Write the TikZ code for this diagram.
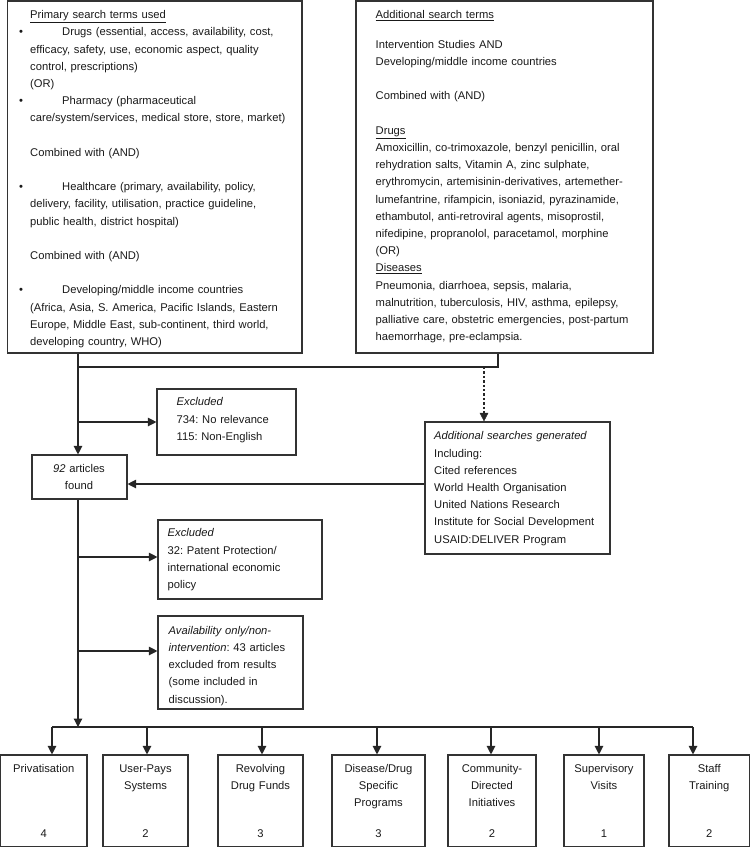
\documentclass[tikz,border=0pt]{standalone}
\usepackage{fontspec}
\setmainfont{Liberation Sans}
\usetikzlibrary{arrows.meta}
\newcommand{\fsz}{\fontsize{11.2pt}{17.2pt}\selectfont\frenchspacing}
\newcommand{\bl}{\\[17.2pt]}
\newcommand{\bul}{\leavevmode\llap{\makebox[11pt][l]{•}}\hspace*{32pt}}
\newcommand{\mkbox}[5]{\node[box, minimum width={(#4-#2)*1pt}, minimum height={(#5-#3)*1pt}] (#1) at ({(#2+#4)/2},{(#3+#5)/2}) {};}
\begin{document}
\begin{tikzpicture}[x=1pt,y=-1pt,
  box/.style={draw=black!80, line width=1.1pt, inner sep=0pt, rectangle},
  txt/.style={inner sep=0pt, font=\fsz, text=black!90, align=left, anchor=north west},
  ctxt/.style={inner sep=0pt, font=\fsz, text=black!90, align=center, anchor=north},
  line/.style={draw=black!85, line width=1.15pt},
  arr/.style={line, -{Triangle[length=8.5pt,width=8.5pt]}},
  dotarr/.style={draw=black!85, line width=2.7pt, dash pattern=on 2.3pt off 2.1pt, -{Triangle[length=8.5pt,width=8.5pt,line width=0.5pt]}}]
\useasboundingbox (0,0) rectangle (750,847);

% boxes
\mkbox{prim}{7.5}{1}{302}{353}
\mkbox{add}{356}{1}{653}{353}
\mkbox{ex1}{157}{389}{296}{455}
\mkbox{found}{32}{455}{127}{499}
\mkbox{gen}{425}{422}{610}{554}
\mkbox{ex2}{158}{520}{322}{599}
\mkbox{avail}{158}{616}{303}{709}
\mkbox{b1}{0.5}{755}{87}{846.3}
\mkbox{b2}{103}{755}{188}{846.3}
\mkbox{b3}{218}{755}{303}{846.3}
\mkbox{b4}{332}{755}{425}{846.3}
\mkbox{b5}{448}{755}{536}{846.3}
\mkbox{b6}{564}{755}{644}{846.3}
\mkbox{b7}{669}{755}{749.5}{846.3}

% texts
\node[txt, text width=300pt] (primtxt) at (30,6.5) {\strut\underline{Primary search terms used}\\
\bul Drugs (essential, access, availability, cost,\\
efficacy, safety, use, economic aspect, quality\\
control, prescriptions)\\
(OR)\\
\bul Pharmacy (pharmaceutical\\
care/system/services, medical store, store, market)\bl
Combined with (AND)\bl
\bul Healthcare (primary, availability, policy,\\
delivery, facility, utilisation, practice guideline,\\
public health, district hospital)\bl
Combined with (AND)\bl
\bul Developing/middle income countries\\
(Africa, Asia, S. America, Pacific Islands, Eastern\\
Europe, Middle East, sub-continent, third world,\\
developing country, WHO)};

\node[txt, text width=300pt] (addtxt) at (375.5,6) {\strut\underline{Additional search terms}\\[12.9pt]
Intervention Studies AND\\
Developing/middle income countries\bl
Combined with (AND)\bl
\underline{Drugs}\\
Amoxicillin, co-trimoxazole, benzyl penicillin, oral\\
rehydration salts, Vitamin A, zinc sulphate,\\
erythromycin, artemisinin-derivatives, artemether-\\
lumefantrine, rifampicin, isoniazid, pyrazinamide,\\
ethambutol, anti-retroviral agents, misoprostil,\\
nifedipine, propranolol, paracetamol, morphine\\
(OR)\\
\underline{Diseases}\\
Pneumonia, diarrhoea, sepsis, malaria,\\
malnutrition, tuberculosis, HIV, asthma, epilepsy,\\
palliative care, obstetric emergencies, post-partum\\
haemorrhage, pre-eclampsia.};

\node[txt, text width=130pt] (ex1txt) at (176.5,393.7) {\strut\textit{Excluded}\\734: No relevance\\115: Non-English};
\node[ctxt, text width=95pt] (foundtxt) at (79,460) {\strut\textit{92} articles\\found};
\node[txt, text width=180pt] (gentxt) at (434,427.7) {\strut\textit{Additional searches generated}\\Including:\\Cited references\\World Health Organisation\\United Nations Research\\Institute for Social Development\\USAID:DELIVER Program};
\node[txt, text width=160pt] (ex2txt) at (167.5,524.7) {\strut\textit{Excluded}\\32: Patent Protection/\\international economic\\policy};
\node[txt, text width=140pt] (availtxt) at (168.5,622) {\strut\textit{Availability only/non-}\\\textit{intervention}: 43 articles\\excluded from results\\(some included in\\discussion).};

\foreach \n/\t/\v in {b1/Privatisation/4, b2/{User-Pays\\Systems}/2, b3/{Revolving\\Drug Funds}/3, b4/{Disease/Drug\\Specific\\Programs}/3, b5/{Community-\\Directed\\Initiatives}/2, b6/{Supervisory\\Visits}/1, b7/{Staff\\Training}/2}{
  \node[ctxt, text width=100pt] (\n lab) at (\n.north |- 0,760.3) {\strut\t};
  \node[ctxt] (\n num) at (\n.north |- 0,825.3) {\strut\v};
}

% connectors
\coordinate (xm) at (78,0);
\coordinate (xa) at (498,0);
\coordinate (xd) at (484,0);
\coordinate (j) at (78,367);
\coordinate (ya) at (0,422);
\coordinate (yf) at (0,484);
\coordinate (y2) at (0,557);
\coordinate (y3) at (0,651);
\coordinate (dist) at (78,727);

\draw[line] (add.south -| xa) |- (j);
\draw[arr] (prim.south -| xm) -- (found.north -| xm);
\draw[dotarr] (j -| xd) -- (gen.north -| xd);
\draw[arr] (ya -| xm) -- (ex1.west |- ya);
\draw[arr] (gen.west |- yf) -- (found.east |- yf);
\draw[arr] (found.south -| xm) -- (dist);
\draw[arr] (y2 -| xm) -- (ex2.west |- y2);
\draw[arr] (y3 -| xm) -- (avail.west |- y3);
\coordinate (dl) at (52,727);
\coordinate (dr) at (693,727);
\draw[line] (dl) -- (dr);
\foreach \n/\x in {b1/52, b2/147, b3/262, b4/377, b5/491, b6/599, b7/693}{
  \coordinate (t\n) at (\x,727);
  \draw[arr] (t\n) -- (t\n |- \n.north);
}
\end{tikzpicture}
\end{document}
